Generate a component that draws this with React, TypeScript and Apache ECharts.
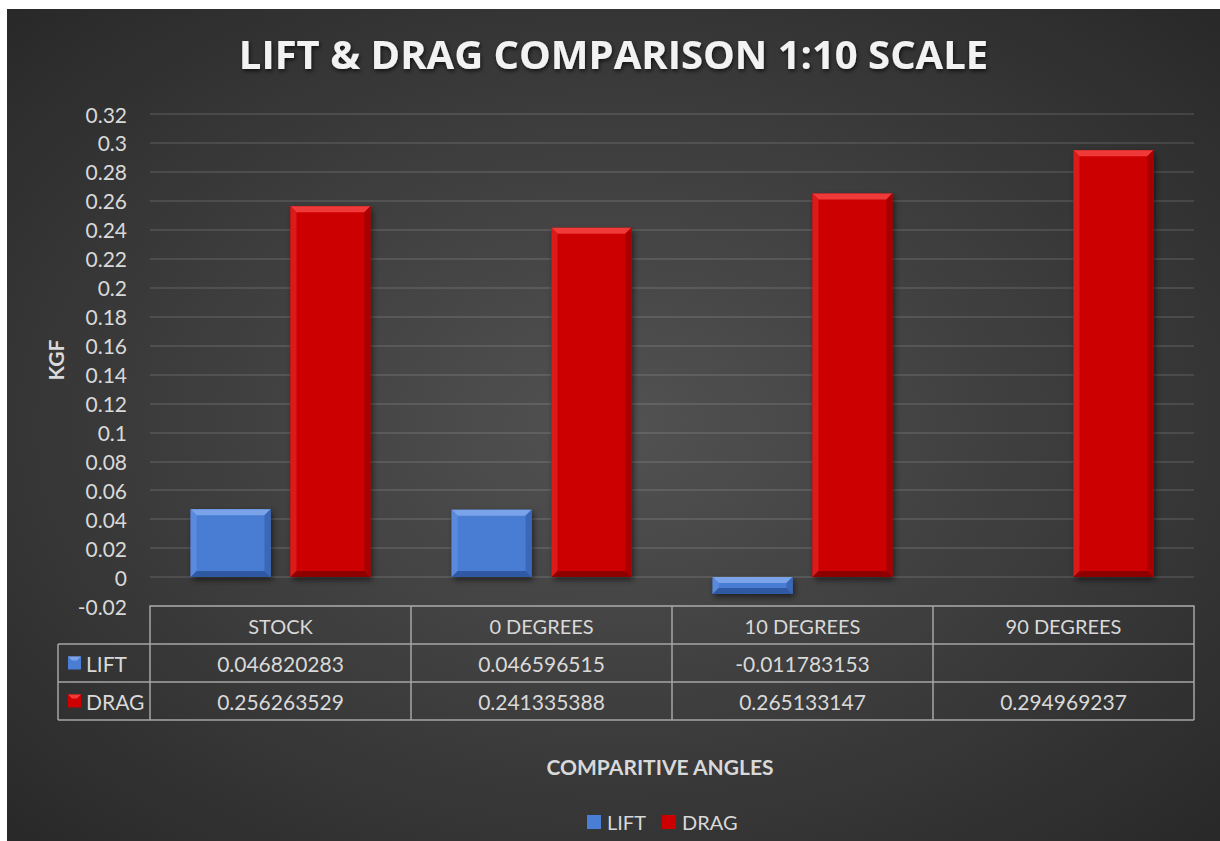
import React, { useEffect, useRef } from "react";
import * as echarts from "echarts";

const categories = ["STOCK", "0 DEGREES", "10 DEGREES", "90 DEGREES"];
const liftValues: (number | null)[] = [0.046820283, 0.046596515, -0.011783153, null];
const dragValues: (number | null)[] = [0.256263529, 0.241335388, 0.265133147, 0.294969237];
const seriesNames = ["LIFT", "DRAG"];
const yMin = -0.02;
const yMax = 0.32;
const yStep = 0.02;

const FONT = "Lato, 'Open Sans', sans-serif";
const TFONT = "'Open Sans', Lato, sans-serif";
const TXT = "#d9d9d9";
const COLORS = ["#4a7dd4", "#cc0000"];
const LIGHT = ["#7aa3ea", "#f03a3a"];
const DARK = ["#2f5aa3", "#8e0000"];
const SIDE_L = ["#5a8ade", "#dd1a1a"];
const SIDE_R = ["#3a67b8", "#a80000"];

export default function App() {
  const ref = useRef<HTMLDivElement>(null);
  useEffect(() => {
    if (!ref.current) return;
    const chart = echarts.init(ref.current, null, { renderer: "svg" });
    const allSeries = [liftValues, dragValues];
    const bevelData: number[][] = [];
    allSeries.forEach((arr, s) =>
      arr.forEach((v, i) => {
        if (v !== null) bevelData.push([i, v, s]);
      })
    );
    const BW = 0.306;
    const GAP = 0.25;
    chart.setOption({
      animation: false,
      backgroundColor: {
        type: "radial",
        x: 0.5,
        y: 0.5,
        r: 0.75,
        colorStops: [
          { offset: 0, color: "#525252" },
          { offset: 1, color: "#262626" },
        ],
      },
      title: {
        text: "LIFT & DRAG COMPARISON 1:10 SCALE",
        left: "center",
        top: 19,
        textStyle: {
          fontFamily: TFONT,
          fontSize: 40,
          fontWeight: "bold",
          color: "#f2f2f2",
          textShadowColor: "rgba(0,0,0,0.7)",
          textShadowBlur: 4,
          textShadowOffsetX: 1,
          textShadowOffsetY: 2,
        },
      },
      legend: {
        data: seriesNames,
        left: 575,
        top: 798,
        itemWidth: 14,
        itemHeight: 14,
        itemGap: 16,
        icon: "rect",
        textStyle: { fontFamily: FONT, fontSize: 20, color: TXT, padding: [0, 0, 0, 1] },
      },
      grid: { left: 143, right: 26, top: 105, bottom: 235 },
      xAxis: {
        type: "category",
        data: categories,
        name: "COMPARITIVE ANGLES",
        nameLocation: "middle",
        nameGap: 150,
        nameTextStyle: {
          fontFamily: FONT,
          fontSize: 21,
          fontWeight: "bold",
          color: TXT,
          padding: [0, 24, 0, 0],
        },
        axisLine: { onZero: false, lineStyle: { color: "#a6a6a6", width: 1.5 } },
        axisTick: { show: true, length: 114, lineStyle: { color: "#a6a6a6", width: 1.5 } },
        axisLabel: { fontFamily: FONT, fontSize: 20, color: TXT, margin: 10 },
      },
      yAxis: {
        type: "value",
        min: yMin,
        max: yMax,
        interval: yStep,
        name: "KGF",
        nameLocation: "middle",
        nameGap: 84,
        nameRotate: 90,
        nameTextStyle: { fontFamily: FONT, fontSize: 21, fontWeight: "bold", color: TXT },
        axisLine: { show: false },
        axisTick: { show: false },
        splitLine: { lineStyle: { color: "rgba(255,255,255,0.14)", width: 1.5 } },
        axisLabel: {
          fontFamily: FONT,
          fontSize: 21,
          color: TXT,
          margin: 23,
          formatter: (v: number) => String(parseFloat(v.toFixed(2))),
        },
      },
      series: [
        ...seriesNames.map((name, s) => ({
          name,
          type: "bar",
          data: allSeries[s],
          barWidth: BW * 100 + "%",
          barGap: GAP * 100 + "%",
          itemStyle: {
            color: COLORS[s],
            shadowColor: "rgba(0,0,0,0.55)",
            shadowBlur: 6,
            shadowOffsetX: 2,
            shadowOffsetY: 3,
          },
        })),
        {
          name: "bevel",
          type: "custom",
          silent: true,
          z: 5,
          data: bevelData,
          encode: { x: 0, y: 1 },
          renderItem: (params: any, api: any) => {
            const i = api.value(0);
            const v = api.value(1);
            const s = api.value(2);
            const band = api.size([1, 0])[0];
            const bw = band * BW;
            const gap = bw * GAP;
            const base = api.coord([i, 0]);
            const tip = api.coord([i, v]);
            const cx = base[0] + (s === 0 ? -(bw + gap) / 2 : (bw + gap) / 2);
            const x0 = cx - bw / 2;
            const x1 = cx + bw / 2;
            const y0 = Math.min(base[1], tip[1]);
            const y1 = Math.max(base[1], tip[1]);
            const b = Math.min(6, (y1 - y0) / 2, bw / 2);
            return {
              type: "group",
              children: [
                { type: "polygon", shape: { points: [[x0, y0], [x1, y0], [x1 - b, y0 + b], [x0 + b, y0 + b]] }, style: { fill: LIGHT[s] } },
                { type: "polygon", shape: { points: [[x0, y0], [x0 + b, y0 + b], [x0 + b, y1 - b], [x0, y1]] }, style: { fill: SIDE_L[s] } },
                { type: "polygon", shape: { points: [[x1, y0], [x1, y1], [x1 - b, y1 - b], [x1 - b, y0 + b]] }, style: { fill: SIDE_R[s] } },
                { type: "polygon", shape: { points: [[x0, y1], [x1, y1], [x1 - b, y1 - b], [x0 + b, y1 - b]] }, style: { fill: DARK[s] } },
              ],
            };
          },
        },
      ],
    });

    // Data table under the axis, positioned from the chart's own scales
    const yBottom = chart.convertToPixel({ yAxisIndex: 0 }, yMin) as number;
    const half = (chart.convertToPixel({ xAxisIndex: 0 }, 1) as number) - (chart.convertToPixel({ xAxisIndex: 0 }, 0) as number);
    const xRight = (chart.convertToPixel({ xAxisIndex: 0 }, categories.length - 1) as number) + half / 2;
    const rowH = 38;
    const colLeft = 51;
    const lineStyle = { stroke: "#a6a6a6", lineWidth: 1.5 };
    const graphics: any[] = [];
    for (let r = 1; r <= 3; r++) {
      const y = yBottom + rowH * r;
      graphics.push({ type: "line", shape: { x1: colLeft, y1: y, x2: xRight, y2: y }, style: lineStyle });
    }
    graphics.push({ type: "line", shape: { x1: colLeft, y1: yBottom + rowH, x2: colLeft, y2: yBottom + rowH * 3 }, style: lineStyle });
    allSeries.forEach((arr, s) => {
      const cy = yBottom + rowH * (s + 1.5);
      graphics.push({ type: "rect", shape: { x: colLeft + 10, y: cy - 6.5, width: 13, height: 13 }, style: { fill: COLORS[s] } });
      graphics.push({ type: "polygon", shape: { points: [[colLeft + 10, cy - 6.5], [colLeft + 23, cy - 6.5], [colLeft + 19, cy - 2.5], [colLeft + 14, cy - 2.5]] }, style: { fill: LIGHT[s] } });
      graphics.push({
        type: "text",
        x: colLeft + 28,
        y: cy,
        style: { text: seriesNames[s], fill: TXT, font: `21px ${FONT}`, verticalAlign: "middle", align: "left" },
      });
      arr.forEach((v, i) => {
        if (v === null) return;
        const x = chart.convertToPixel({ xAxisIndex: 0 }, i) as number;
        graphics.push({
          type: "text",
          x,
          y: cy,
          style: { text: String(v), fill: TXT, font: `21px ${FONT}`, verticalAlign: "middle", align: "center" },
        });
      });
    });
    chart.setOption({ graphic: graphics });

    return () => chart.dispose();
  }, []);
  return (
    <div
      ref={ref}
      style={{ position: "absolute", left: 7, top: 9, width: 1213, height: 832 }}
    />
  );
}
